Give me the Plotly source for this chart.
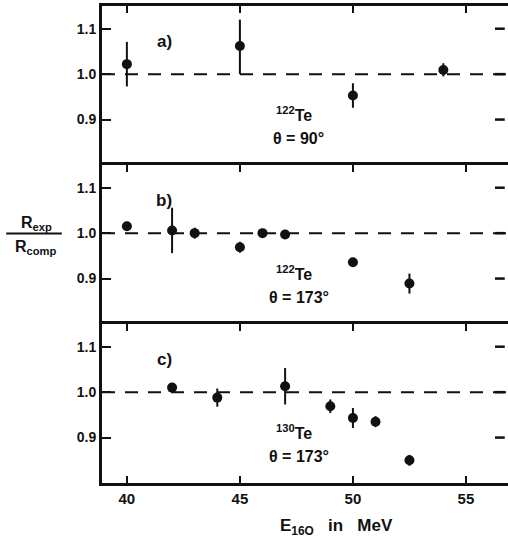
import plotly.graph_objects as go
from plotly.subplots import make_subplots

# ---------------- data ----------------
# panel a) 122Te, theta = 90 deg
a_x = [40, 45, 50, 54]
a_y = [1.022, 1.062, 0.953, 1.009]
a_err_plus = [0.049, 0.058, 0.027, 0.015]
a_err_minus = [0.049, 0.062, 0.027, 0.014]

# panel b) 122Te, theta = 173 deg
b_x = [40, 42, 43, 45, 46, 47, 50, 52.5]
b_y = [1.015, 1.006, 1.0, 0.969, 1.0, 0.997, 0.936, 0.889]
b_err = [0.008, 0.05, 0.012, 0.012, 0.005, 0.01, 0.005, 0.022]

# panel c) 130Te, theta = 173 deg
c_x = [42, 44, 47, 49, 50, 51, 52.5]
c_y = [1.01, 0.988, 1.013, 0.969, 0.943, 0.935, 0.85]
c_err = [0.008, 0.02, 0.04, 0.015, 0.022, 0.012, 0.012]

x_ticks = [40, 45, 50, 55]
y_ticks = [0.9, 1.0, 1.1]
panel_labels = ["a)", "b)", "c)"]
isotope_labels = ["<sup>122</sup>Te", "<sup>122</sup>Te", "<sup>130</sup>Te"]
angle_labels = ["θ = 90°", "θ = 173°", "θ = 173°"]

FONT = "Liberation Sans, Arial, sans-serif"
INK = "#111111"

fig = make_subplots(rows=3, cols=1, shared_xaxes=False, vertical_spacing=0)

panels = [
    (a_x, a_y, a_err_plus, a_err_minus),
    (b_x, b_y, b_err, b_err),
    (c_x, c_y, c_err, c_err),
]

for i, (xs, ys, ep, em) in enumerate(panels, start=1):
    fig.add_trace(
        go.Scatter(
            x=xs, y=ys, mode="markers",
            marker=dict(size=10, color=INK),
            error_y=dict(type="data", array=ep, arrayminus=em, symmetric=False,
                         thickness=2, width=0, color=INK),
            showlegend=False,
        ),
        row=i, col=1,
    )
    fig.add_hline(y=1.0, line=dict(color=INK, width=2, dash="13px,10px"), row=i, col=1)

xrange = [38.9, 56.86]
yrange = [0.8, 1.15]

for i in range(1, 4):
    xa = "xaxis" if i == 1 else f"xaxis{i}"
    ya = "yaxis" if i == 1 else f"yaxis{i}"
    common_x = dict(range=xrange, tickvals=x_ticks, ticks="inside", ticklen=7, tickwidth=2,
                    tickcolor=INK, showline=True, linecolor=INK, linewidth=3,
                    showgrid=False, zeroline=False,
                    tickfont=dict(family=FONT, size=15, color=INK, weight="bold"))
    if i < 3:
        fig.layout[xa].update(side="top", showticklabels=False, **common_x)
    else:
        fig.layout[xa].update(side="bottom", mirror="ticks", showticklabels=True, **common_x)
    fig.layout[ya].update(range=yrange, tickvals=y_ticks, tickformat=".1f", ticks="inside",
                          ticklen=9, tickwidth=2, tickcolor=INK, showline=True, linecolor=INK,
                          linewidth=3, showgrid=False, zeroline=False,
                          tickfont=dict(family=FONT, size=14, color=INK, weight="bold"))

# right-hand inner tick marks (frame itself is cut off at the right page edge)
for i in range(1, 4):
    yr = "y" if i == 1 else f"y{i}"
    for tv in y_ticks:
        fig.add_shape(type="line", xref="paper", yref=yr, x0=0.968, x1=0.992, y0=tv, y1=tv,
                      line=dict(color=INK, width=2.5))

# panel annotations
for i in range(3):
    xr = "x" if i == 0 else f"x{i+1}"
    yr = "y" if i == 0 else f"y{i+1}"
    fig.add_annotation(x=41.65, y=1.072, xref=xr, yref=yr, text=panel_labels[i], showarrow=False,
                       font=dict(family=FONT, size=17, color=INK, weight="bold"))
    fig.add_annotation(x=47.4, y=0.913, xref=xr, yref=yr, text=isotope_labels[i], showarrow=False,
                       font=dict(family=FONT, size=16, color=INK, weight="bold"))
    fig.add_annotation(x=47.6, y=0.858, xref=xr, yref=yr, text=angle_labels[i], showarrow=False,
                       font=dict(family=FONT, size=16, color=INK, weight="bold"))

# x-axis title
fig.add_annotation(x=0.578, y=-0.092, xref="paper", yref="paper", xanchor="center", yanchor="middle",
                   text="E<sub>16O</sub>   in   MeV", showarrow=False,
                   font=dict(family=FONT, size=17, color=INK, weight="bold"))

# y-axis label as a fraction
fig.add_annotation(x=-0.162, y=0.543, xref="paper", yref="paper", xanchor="center", yanchor="middle",
                   text="R<sub>exp</sub>", showarrow=False,
                   font=dict(family=FONT, size=16, color=INK, weight="bold"))
fig.add_annotation(x=-0.162, y=0.494, xref="paper", yref="paper", xanchor="center", yanchor="middle",
                   text="R<sub>comp</sub>", showarrow=False,
                   font=dict(family=FONT, size=16, color=INK, weight="bold"))
fig.add_shape(type="line", xref="paper", yref="paper", x0=-0.236, x1=-0.099, y0=0.523, y1=0.523,
              line=dict(color=INK, width=2))

fig.update_layout(
    width=508, height=549,
    margin=dict(l=102, r=0, t=6, b=66),
    paper_bgcolor="white", plot_bgcolor="white",
    font=dict(family=FONT, color=INK),
)

fig.write_html("out.html")
